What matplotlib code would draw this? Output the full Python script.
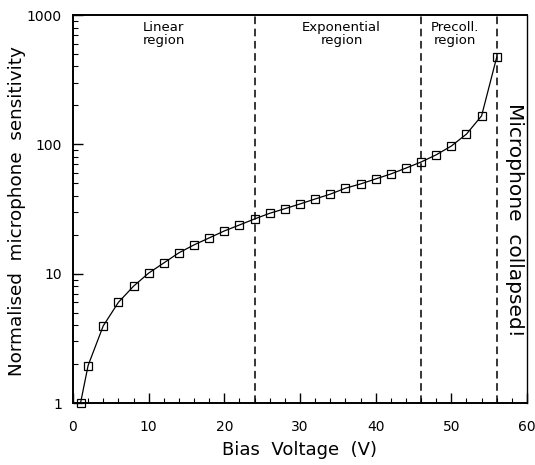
import numpy as np
import matplotlib
matplotlib.use('Agg')
import matplotlib.pyplot as plt
from matplotlib.ticker import FixedLocator, NullFormatter, FixedFormatter

# bias voltage (V) and normalised sensitivity
voltage = [1, 2, 4, 6, 8, 10, 12, 14, 16, 18, 20, 22, 24, 26, 28,
           30, 32, 34, 36, 38, 40, 42, 44, 46, 48, 50, 52, 54, 56]
sensitivity = [1.0, 1.95, 3.95, 6.0, 8.0, 10.1, 12.1, 14.5, 16.7, 18.9, 21.4, 23.8, 26.5, 29.3, 31.8,
               34.6, 37.8, 41.2, 45.8, 49.4, 54, 59, 65.5, 73, 83, 97, 120, 166, 472]

region_bounds = [24, 46, 56]
region_labels = ["Linear\nregion", "Exponential\nregion", "Precoll.\nregion"]
region_label_x = [12, 35.5, 50.5]

plt.rcParams['font.family'] = ['DejaVu Sans']

fig = plt.figure(figsize=(5.35, 4.65), dpi=100)
ax = fig.add_axes([0.1364, 0.1333, 0.8486, 0.8344])

ax.plot(voltage, sensitivity, color='black', lw=0.9, marker='s', ms=6,
        mfc='none', mec='black', mew=0.9, clip_on=False, zorder=3)

for xb in region_bounds:
  ax.axvline(xb, color='black', lw=1.1, ls=(0, (5, 3)), zorder=2)

for txt, xl in zip(region_labels, region_label_x):
  ax.text(xl, 900, txt, ha='center', va='top', fontsize=9.5, linespacing=1.0)

ax.text(58.3, 26, "Microphone  collapsed!", rotation=-90, ha='center', va='center',
        fontsize=14.5)

ax.set_xscale('linear')
ax.set_yscale('log')
ax.set_xlim(0, 60)
ax.set_ylim(1, 1000)

ax.xaxis.set_major_locator(FixedLocator([0, 10, 20, 30, 40, 50, 60]))
ax.xaxis.set_minor_locator(FixedLocator(np.arange(0, 61, 2)))
ax.yaxis.set_major_locator(FixedLocator([1, 10, 100, 1000]))
ax.yaxis.set_major_formatter(FixedFormatter(['1', '10', '100', '1000']))
minors = [m * d for d in [1, 10, 100] for m in range(2, 10)]
ax.yaxis.set_minor_locator(FixedLocator(minors))
ax.yaxis.set_minor_formatter(NullFormatter())

ax.tick_params(which='major', direction='in', length=7, width=1, labelsize=10, pad=8)
ax.tick_params(which='minor', direction='in', length=3.5, width=0.8)
ax.tick_params(axis='x', which='major', pad=12)
ax.tick_params(axis='y', which='both', right=False)
ax.tick_params(axis='x', which='both', top=False)

for s in ax.spines.values():
  s.set_linewidth(1.4)
ax.spines['right'].set_linewidth(1.0)

ax.set_xlabel('Bias  Voltage  (V)', fontsize=13, labelpad=5)
ax.set_ylabel('Normalised  microphone  sensitivity', fontsize=13.2, va='center')
ax.yaxis.set_label_coords(-0.124, 0.495)

fig.savefig('out.png', dpi=100)
